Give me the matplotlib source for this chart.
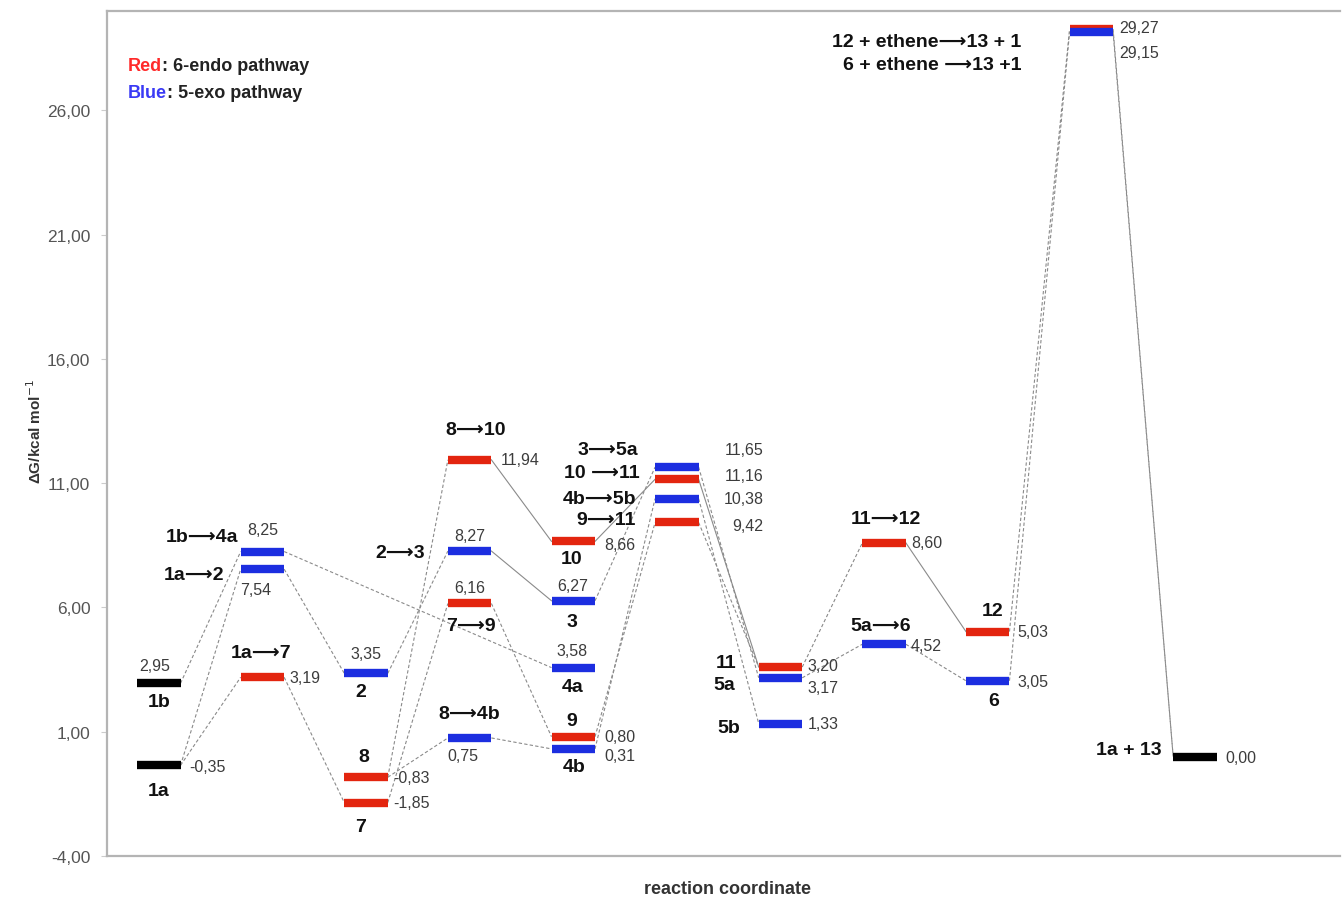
import matplotlib
matplotlib.use('Agg')
import matplotlib.pyplot as plt
from matplotlib.ticker import FuncFormatter

plt.rcParams['font.family'] = ['Liberation Sans', 'DejaVu Sans']

# species / transition states along the reaction coordinate
steps = [0, 0, 1, 1, 1, 2, 2, 2, 3, 3, 3, 3, 4, 4, 4, 4, 4,
         5, 5, 5, 5, 6, 6, 6, 7, 7, 8, 8, 9, 9, 10]
names = ['1a', '1b',
         '1b\u27f64a', '1a\u27f62', '1a\u27f67',
         '2', '8', '7',
         '8\u27f610', '2\u27f63', '7\u27f69', '8\u27f64b',
         '10', '3', '4a', '9', '4b',
         '3\u27f65a', '10 \u27f611', '4b\u27f65b', '9\u27f611',
         '11', '5a', '5b',
         '11\u27f612', '5a\u27f66',
         '12', '6',
         '12 + ethene\u27f613 + 1', '6 + ethene \u27f613 +1',
         '1a + 13']
energies = [-0.35, 2.95,
            8.25, 7.54, 3.19,
            3.35, -0.83, -1.85,
            11.94, 8.27, 6.16, 0.75,
            8.66, 6.27, 3.58, 0.80, 0.31,
            11.65, 11.16, 10.38, 9.42,
            3.20, 3.17, 1.33,
            8.60, 4.52,
            5.03, 3.05,
            29.27, 29.15,
            0.00]
pathway = ['both', 'both',
           'exo', 'exo', 'endo',
           'exo', 'endo', 'endo',
           'endo', 'exo', 'endo', 'exo',
           'endo', 'exo', 'exo', 'endo', 'exo',
           'exo', 'endo', 'exo', 'endo',
           'endo', 'exo', 'exo',
           'endo', 'exo',
           'endo', 'exo',
           'endo', 'exo',
           'both']

links = [(0, 3), (0, 4), (1, 2),
         (3, 5), (2, 14), (4, 7),
         (5, 9), (6, 8), (6, 11), (7, 10),
         (8, 12), (9, 13), (10, 15), (11, 16),
         (12, 18), (13, 17), (15, 20), (16, 19),
         (17, 22), (18, 21), (19, 23), (20, 21),
         (21, 24), (22, 25), (24, 26), (25, 27),
         (26, 28), (27, 29), (28, 30), (29, 30)]
solid_links = {(8, 12), (9, 13), (12, 18), (18, 21), (24, 26)}

colors = {'endo': '#e3250f', 'exo': '#1c2ee0', 'both': '#000000'}

# label placement in pixels: (anchor, dx, dy) for the value and for the name
# anchor r = right end, c = centre, l = left end, R = right-aligned past right end
label_pos = [
    (('r', 9, -1), ('c', 0, -25)),
    (('c', -4, 18), ('c', 0, -18)),
    (('c', 0, 22), ('l', -2, 15)),
    (('c', -7, -20), ('l', -16, -5)),
    (('r', 5, 0), ('c', -1, 25)),
    (('c', 0, 20), ('c', -5, -18)),
    (('r', 5, 0), ('c', -2, 21)),
    (('r', 5, 0), ('c', -5, -24)),
    (('r', 9, 0), ('c', 6, 30)),
    (('c', 0, 16), ('l', -23, -1)),
    (('c', 0, 16), ('c', 1, -22)),
    (('c', -7, -18), ('c', 0, 24)),
    (('r', 9, -3), ('c', -2, -17)),
    (('c', -1, 15), ('c', -1, -21)),
    (('c', -1, 17), ('c', -1, -19)),
    (('r', 9, 0), ('c', -2, 16)),
    (('r', 9, -7), ('c', 1, -18)),
    (('R', 65, 18), ('l', -17, 18)),
    (('R', 65, 4), ('l', -15, 7)),
    (('R', 65, 0), ('l', -19, 0)),
    (('R', 65, -3), ('l', -19, 3)),
    (('r', 5, 2), ('l', -22, 5)),
    (('r', 5, -10), ('l', -24, -7)),
    (('r', 6, 0), ('l', -19, -4)),
    (('r', 5, 0), ('c', 2, 24)),
    (('r', 5, -1), ('c', -3, 19)),
    (('r', 8, 0), ('c', 5, 21)),
    (('r', 8, -1), ('c', 6, -20)),
    (('r', 6, 2), ('l', -48, -12)),
    (('r', 6, -20), ('l', -48, -32)),
    (('r', 9, -1), ('l', -12, 7)),
]
# levels that sit on top of each other get lifted a few pixels
nudge_px = {21: 10}

half_w = 0.21

fig = plt.figure(figsize=(13.42, 9.03), dpi=100)
ax = fig.add_axes([107 / 1342, 1 - 857 / 903, 1233 / 1342, 845 / 903])
ax.set_xlim(0, 11.9)
ax.set_ylim(-4, 30)

px_per_unit = ax.transData.transform((0, 1))[1] - ax.transData.transform((0, 0))[1]
xs = [s + 0.5 for s in steps]
ys = [e + nudge_px.get(i, 0) / px_per_unit for i, e in enumerate(energies)]

for a, b in links:
    ls = '-' if (a, b) in solid_links else (0, (3, 2))
    ax.plot([xs[a] + half_w, xs[b] - half_w], [ys[a], ys[b]],
            color='#8a8a8a', lw=0.8, ls=ls, zorder=1)

for i in range(len(names)):
    ax.plot([xs[i] - half_w, xs[i] + half_w], [ys[i], ys[i]],
            color=colors[pathway[i]], lw=6, solid_capstyle='butt', zorder=3)


def place(i, text, spec, **kw):
    anchor, dx, dy = spec
    if anchor == 'r':
        x, ha = xs[i] + half_w, 'left'
    elif anchor == 'R':
        x, ha = xs[i] + half_w, 'right'
    elif anchor == 'l':
        x, ha = xs[i] - half_w, 'right'
    else:
        x, ha = xs[i], 'center'
    ax.annotate(text, xy=(x, ys[i]), xytext=(dx, dy), textcoords='offset pixels',
                ha=ha, va='center', zorder=4, **kw)


for i, name in enumerate(names):
    vspec, nspec = label_pos[i]
    place(i, f'{energies[i]:.2f}'.replace('.', ','), vspec,
          fontsize=11.5, color='#3c3c3c')
    place(i, name, nspec, fontsize=14, fontweight='bold', color='#111111')

t1 = ax.text(0.017, 0.936, 'Red', transform=ax.transAxes, color='#ff2a2a',
             fontsize=13, fontweight='bold', va='center')
ax.annotate(': 6-endo pathway', xy=(1, 0), xycoords=t1, va='bottom',
            fontsize=13, fontweight='bold', color='#222222')
t2 = ax.text(0.017, 0.904, 'Blue', transform=ax.transAxes, color='#3a3af5',
             fontsize=13, fontweight='bold', va='center')
ax.annotate(': 5-exo pathway', xy=(1, 0), xycoords=t2, va='bottom',
            fontsize=13, fontweight='bold', color='#222222')

ax.set_yticks([-4, 1, 6, 11, 16, 21, 26])
ax.yaxis.set_major_formatter(FuncFormatter(lambda v, p: f'{v:.2f}'.replace('.', ',')))
ax.set_xticks([])
ax.tick_params(axis='y', direction='out', length=4, pad=8, color='#cccccc',
               labelcolor='#555555', labelsize=12.5)
for side in ['left', 'bottom', 'top']:
    ax.spines[side].set_color('#b4b4b4')
    ax.spines[side].set_linewidth(1.6)
ax.spines['right'].set_visible(False)

fig.text(35 / 1342, 1 - 432 / 903, r'ΔG/kcal mol$^{-1}$', rotation=90,
         ha='center', va='center', fontsize=11, fontweight='bold', color='#333333')
fig.text(728 / 1342, 1 - 890 / 903, 'reaction coordinate', ha='center', va='center',
         fontsize=13, fontweight='bold', color='#333333')

fig.savefig('out.png', dpi=100)
